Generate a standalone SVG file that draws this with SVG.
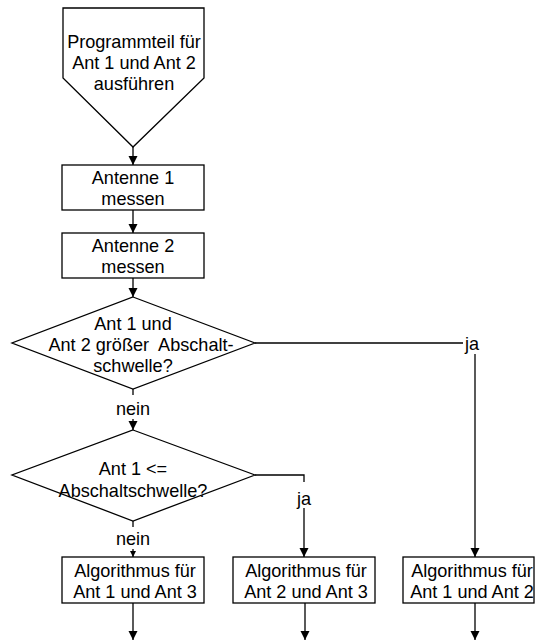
<svg xmlns="http://www.w3.org/2000/svg" width="536" height="641" viewBox="0 0 536 641">
  <style>
    .shape { fill: #ffffff; stroke: #000000; stroke-width: 1.3; }
    .line { fill: none; stroke: #000000; stroke-width: 1.3; }
    text { font-family: "Liberation Sans", Arial, sans-serif; font-size: 18.1px; fill: #000000; text-anchor: middle; }
  </style>
  <defs>
    <marker id="arrow" markerWidth="9" markerHeight="10" refX="9" refY="5" orient="auto" markerUnits="userSpaceOnUse">
      <path d="M0,0.5 L9,5 L0,9.5 Z" fill="#000000"/>
    </marker>
    <marker id="arrowSmall" markerWidth="6" markerHeight="7" refX="6" refY="3.5" orient="auto" markerUnits="userSpaceOnUse">
      <path d="M0,0.5 L6,3.5 L0,6.5 Z" fill="#000000"/>
    </marker>
  </defs>

  <rect width="536" height="641" fill="#ffffff"/>

  <!-- connectors -->
  <g id="connectors">
    <line class="line" x1="133" y1="147" x2="133" y2="165" marker-end="url(#arrow)"/>
    <line class="line" x1="133" y1="210" x2="133" y2="233" marker-end="url(#arrow)"/>
    <line class="line" x1="133" y1="278" x2="133" y2="297" marker-end="url(#arrow)"/>
    <!-- decision 1: nein -->
    <line class="line" x1="133" y1="389" x2="133" y2="395"/>
    <text x="133" y="415">nein</text>
    <line class="line" x1="133" y1="419" x2="133" y2="430" marker-end="url(#arrow)"/>
    <!-- decision 1: ja -->
    <polyline class="line" points="255,343 463,343"/>
    <text x="472" y="350">ja</text>
    <line class="line" x1="475" y1="354" x2="475" y2="557" marker-end="url(#arrow)"/>
    <!-- decision 2: nein -->
    <line class="line" x1="133" y1="521" x2="133" y2="527"/>
    <text x="133" y="545">nein</text>
    <line class="line" x1="133" y1="549" x2="133" y2="557" marker-end="url(#arrowSmall)"/>
    <!-- decision 2: ja -->
    <polyline class="line" points="255,475 304,475 304,482"/>
    <text x="304" y="505">ja</text>
    <line class="line" x1="304" y1="508" x2="304" y2="557" marker-end="url(#arrow)"/>
    <!-- outputs -->
    <line class="line" x1="133" y1="603" x2="133" y2="640" marker-end="url(#arrow)"/>
    <line class="line" x1="305" y1="603" x2="305" y2="640" marker-end="url(#arrow)"/>
    <line class="line" x1="475" y1="603" x2="475" y2="640" marker-end="url(#arrow)"/>
  </g>

  <g id="start">
    <polygon class="shape" points="63,8 204,8 204,78 133,147 63,78"/>
    <text x="134" y="48">Programmteil für</text>
    <text x="134" y="69">Ant 1 und Ant 2</text>
    <text x="134" y="90">ausführen</text>
  </g>

  <g id="measure1">
    <rect class="shape" x="62" y="165" width="142" height="45"/>
    <text x="133" y="184">Antenne 1</text>
    <text x="133" y="205">messen</text>
  </g>

  <g id="measure2">
    <rect class="shape" x="62" y="233" width="142" height="45"/>
    <text x="133" y="252">Antenne 2</text>
    <text x="133" y="273">messen</text>
  </g>

  <g id="decision1">
    <polygon class="shape" points="133,297 255,343 133,389 12,343"/>
    <text x="133" y="330">Ant 1 und</text>
    <text x="141" y="351">Ant 2 größer&#160; Abschalt-</text>
    <text x="133" y="372">schwelle?</text>
  </g>

  <g id="decision2">
    <polygon class="shape" points="133,430 255,475 133,521 12,475"/>
    <text x="133" y="475">Ant 1 &lt;=</text>
    <text x="133" y="497">Abschaltschwelle?</text>
  </g>

  <g id="algo13">
    <rect class="shape" x="62" y="557" width="142" height="46"/>
    <text x="135" y="577">Algorithmus für</text>
    <text x="135" y="598">Ant 1 und Ant 3</text>
  </g>

  <g id="algo23">
    <rect class="shape" x="233" y="557" width="142" height="46"/>
    <text x="306" y="577">Algorithmus für</text>
    <text x="306" y="598">Ant 2 und Ant 3</text>
  </g>

  <g id="algo12">
    <rect class="shape" x="403" y="557" width="131" height="46"/>
    <text x="472" y="577">Algorithmus für</text>
    <text x="472" y="598">Ant 1 und Ant 2</text>
  </g>
</svg>
